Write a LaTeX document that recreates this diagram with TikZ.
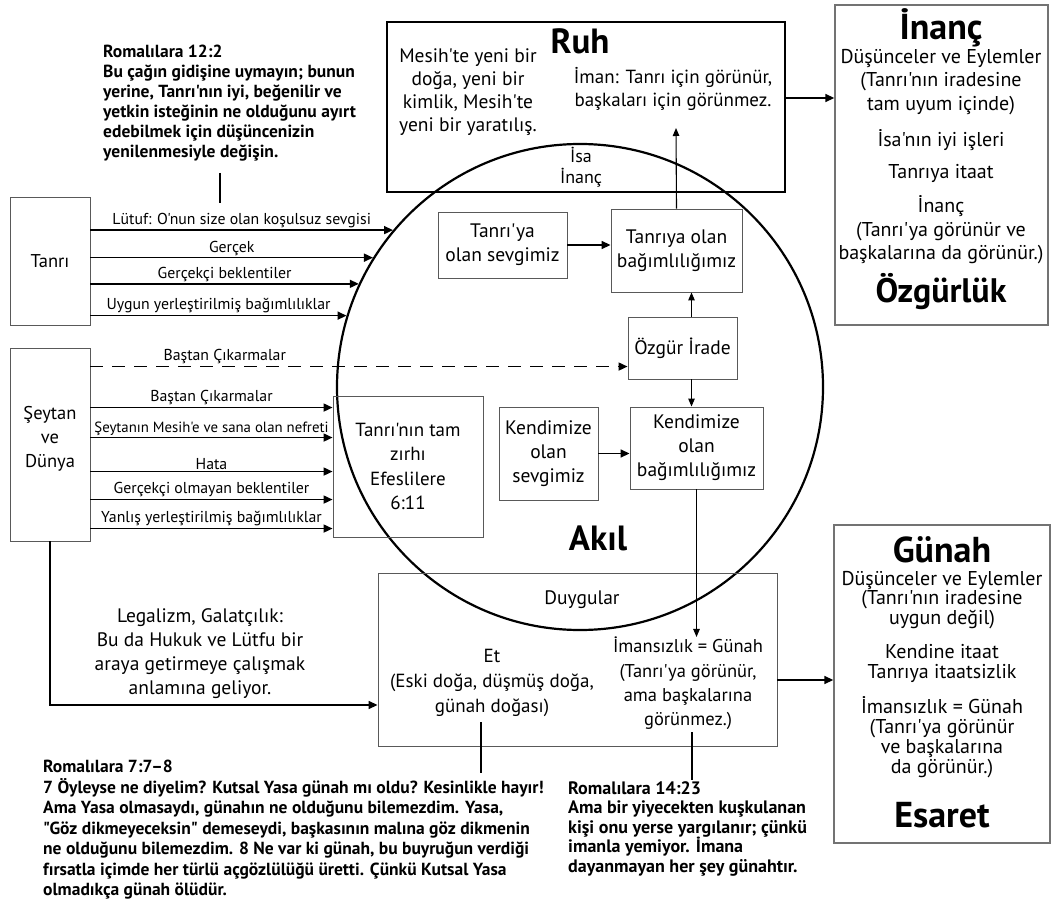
\documentclass[tikz,border=0pt]{standalone}
\usepackage{fontspec}
\setmainfont{PT Sans}[Ligatures=TeXOff]
\usepackage{tikz}
\usetikzlibrary{shapes,arrows,arrows.meta,positioning,calc}

\tikzset{
  box/.style = {draw=black!65, line width=0.9pt, align=center, inner sep=0pt,
    font=\fontsize{19.5}{24}\selectfont},
  bigbox/.style = {draw=black!55, line width=1.4pt, inner sep=0pt},
  arr/.style = {-{Triangle[length=9pt,width=8pt]}, line width=1.6pt},
  thinarr/.style = {-{Triangle[length=8pt,width=6.5pt]}, line width=1.1pt},
  conn/.style = {line width=1.1pt},
  lbl/.style = {font=\fontsize{15.8}{16}\selectfont, inner sep=1.5pt},
  txt/.style = {align=center, inner sep=0pt, font=\fontsize{19.5}{24}\selectfont},
  side/.style = {align=center, inner sep=0pt, font=\fontsize{20}{23.5}\selectfont},
  verse/.style = {align=left, inner sep=0pt, anchor=north west,
    font=\bfseries\fontsize{17.5}{20.5}\selectfont},
  head/.style = {inner sep=0pt, font=\bfseries\fontsize{36}{36}\selectfont}
}

\begin{document}
\begin{tikzpicture}[x=1pt, y=-1pt]
  \useasboundingbox (0,0) rectangle (1051,901);

  % left side
  \node[box, font=\fontsize{18.5}{24}\selectfont, minimum width=80pt, minimum height=128pt] (tanri) at (50,261) {Tanrı};
  \node[box, minimum width=80pt, minimum height=193pt] (seytan) at (50,444.5) {};
  \node[txt, font=\fontsize{18.5}{24}\selectfont] (seytanT) at (50,439) {Şeytan\\ve\\Dünya};

  % the mind
  \node[circle, draw, line width=2.2pt, minimum size=486pt, inner sep=0pt] (akil) at (580,387) {};
  \node[head, font=\bfseries\fontsize{35}{35}\selectfont] (akilT) at (598,538) {Akıl};

  % spirit
  \node[draw, line width=2.4pt, minimum width=398pt, minimum height=170pt, inner sep=0pt] (ruh) at (586,107) {};
  \node[head, font=\bfseries\fontsize{35}{35}\selectfont] (ruhT) at (580,41) {Ruh};
  \node[txt, font=\fontsize{19.5}{23}\selectfont] (yeni) at (468,92.5) {Mesih'te yeni bir\\doğa, yeni bir\\kimlik, Mesih'te\\yeni bir yaratılış.};
  \node[txt, font=\fontsize{19}{23}\selectfont] (iman) at (673,88.5) {İman: Tanrı için görünür,\\başkaları için görünmez.};
  \node[txt, font=\fontsize{18}{21}\selectfont] (isa) at (581,167.5) {İsa\\İnanç};
  \coordinate (imantip) at (676,128);

  % boxes in the circle
  \node[box, minimum width=129pt, minimum height=66pt] (tanrisev) at (502.5,245) {Tanrı'ya\\olan sevgimiz};
  \node[box, minimum width=131pt, minimum height=83pt] (tanribag) at (676.5,250.5) {Tanrıya olan\\bağımlılığımız};
  \node[box, minimum width=109pt, minimum height=62pt] (ozgur) at (682.5,348) {Özgür İrade};
  \node[box, minimum width=99pt, minimum height=93pt] (kendisev) at (548.5,453.5) {Kendimize\\olan\\sevgimiz};
  \node[box, minimum width=133pt, minimum height=82pt] (kendibag) at (696.5,448) {Kendimize\\olan\\bağımlılığımız};
  \node[box, font=\fontsize{19}{24.5}\selectfont, minimum width=150pt, minimum height=141pt] (zirh) at (408,466.5) {Tanrı'nın tam\\zırhı\\Efeslilere\\6:11};

  % feelings
  \node[box, minimum width=399pt, minimum height=173pt] (duygular) at (577.5,659.5) {};
  \node[txt] (duyT) at (582,600) {Duygular};
  \node[txt, font=\fontsize{19}{25}\selectfont] (et) at (492,683) {Et\\(Eski doğa, düşmüş doğa,\\günah doğası)};
  \node[txt, font=\fontsize{18.5}{24.3}\selectfont] (imansiz) at (688,683.5) {İmansızlık = Günah\\(Tanrı'ya görünür,\\ama başkalarına\\görünmez.)};
  \node[txt] (legal) at (200,654) {Legalizm, Galatçılık:\\Bu da Hukuk ve Lütfu bir\\araya getirmeye çalışmak\\anlamına geliyor.};

  % right side
  \node[bigbox, minimum width=213pt, minimum height=320pt] (inancbox) at (941.5,165) {};
  \node[head] (inancT) at (941,28) {İnanç};
  \node[side] (inanc1) at (941,82) {Düşünceler ve Eylemler\\(Tanrı'nın iradesine\\tam uyum içinde)};
  \node[side] (inanc2) at (941,140) {İsa'nın iyi işleri};
  \node[side] (inanc3) at (941,173) {Tanrıya itaat};
  \node[side] (inanc4) at (941,230) {İnanç\\(Tanrı'ya görünür ve\\başkalarına da görünür.)};
  \node[head, font=\bfseries\fontsize{34}{34}\selectfont] (ozgurluk) at (941,292) {Özgürlük};

  \node[bigbox, minimum width=216pt, minimum height=318pt] (gunahbox) at (942,684) {};
  \node[head] (gunahT) at (942,550) {Günah};
  \node[side, font=\fontsize{20}{19.5}\selectfont] (gunah1) at (942,600) {Düşünceler ve Eylemler\\(Tanrı'nın iradesine\\uygun değil)};
  \node[side, font=\fontsize{20}{20}\selectfont] (gunah2) at (942,663) {Kendine itaat\\Tanrıya itaatsizlik};
  \node[side, font=\fontsize{20}{20}\selectfont] (gunah3) at (942,737) {İmansızlık = Günah\\(Tanrı'ya görünür\\ve başkalarına\\da görünür.)};
  \node[head] (esaret) at (942,815) {Esaret};

  % verses
  \node[verse, font=\bfseries\fontsize{17.5}{20}\selectfont] (rom12) at (103,45) {Romalılara 12:2\\Bu çağın gidişine uymayın; bunun\\yerine, Tanrı'nın iyi, beğenilir ve\\yetkin isteğinin ne olduğunu ayırt\\edebilmek için düşüncenizin\\yenilenmesiyle değişin.};
  \node[verse] (rom7) at (43,760) {Romalılara 7:7–8\\7 Öyleyse ne diyelim? Kutsal Yasa günah mı oldu? Kesinlikle hayır!\\Ama Yasa olmasaydı, günahın ne olduğunu bilemezdim. Yasa,\\"Göz dikmeyeceksin" demeseydi, başkasının malına göz dikmenin\\ne olduğunu bilemezdim. 8 Ne var ki günah, bu buyruğun verdiği\\fırsatla içimde her türlü açgözlülüğü üretti. Çünkü Kutsal Yasa\\olmadıkça günah ölüdür.};
  \node[verse, font=\bfseries\fontsize{18}{19.5}\selectfont] (rom14) at (568,781) {Romalılara 14:23\\Ama bir yiyecekten kuşkulanan\\kişi onu yerse yargılanır; çünkü\\imanla yemiyor. İmana\\dayanmayan her şey günahtır.};
  \coordinate (r12a) at (220,173);
  \coordinate (r12b) at (220,203);
  \coordinate (r7a) at (481,722);
  \coordinate (r7b) at (481,773);
  \coordinate (r14a) at (692,732);
  \coordinate (r14b) at (692,780);
  \draw[conn] (r12a) -- (r12b);
  \draw[conn] (r7a) -- (r7b);
  \draw[conn] (r14a) -- (r14b);

  % from God
  \draw[arr] (tanri.east |- akil.140) -- (akil.140) node[lbl, midway, above] {Lütuf: O'nun size olan koşulsuz sevgisi};
  \draw[arr] (tanri.east |- akil.148) -- (akil.148) node[lbl, midway, above] {Gerçek};
  \draw[arr] (tanri.east |- akil.155) -- (akil.155) node[lbl, midway, above] {Gerçekçi beklentiler};
  \draw[arr] (tanri.east |- akil.163) -- (akil.163) node[lbl, midway, above] {Uygun yerleştirilmiş bağımlılıklar};

  % from Satan and the world
  \draw[arr, dash pattern=on 13pt off 9pt] ([yshift=-19pt]seytan.north east) coordinate (d0) -- (d0 -| ozgur.west) node[lbl, pos=0.25, above] {Baştan Çıkarmalar};
  \draw[arr] ([yshift=-60pt]seytan.north east) coordinate (s1) -- (s1 -| zirh.west) node[lbl, midway, above] {Baştan Çıkarmalar};
  \draw[arr] ([yshift=-90pt]seytan.north east) coordinate (s2) -- (s2 -| zirh.west) node[lbl, font=\fontsize{14.8}{15}\selectfont, midway, above] {Şeytanın Mesih'e ve sana olan nefreti};
  \draw[arr] ([yshift=-124pt]seytan.north east) coordinate (s3) -- (s3 -| zirh.west) node[lbl, midway, above] {Hata};
  \draw[arr] ([yshift=-152pt]seytan.north east) coordinate (s4) -- (s4 -| zirh.west) node[lbl, midway, above] {Gerçekçi olmayan beklentiler};
  \draw[arr] ([yshift=-181pt]seytan.north east) coordinate (s5) -- (s5 -| zirh.west) node[lbl, midway, above] {Yanlış yerleştirilmiş bağımlılıklar};
  \draw[arr] (seytan.south) |- ([yshift=-45.5pt]duygular.west);

  % inside the mind
  \draw[arr] (tanrisev.east) -- (tanrisev.east -| tanribag.west);
  \draw[thinarr] (tanribag.north) -- (imantip);
  \draw[thinarr] ([xshift=9pt]ozgur.north) -- ([xshift=9pt]ozgur.north |- tanribag.south);
  \draw[thinarr] ([xshift=9pt]ozgur.south) -- ([xshift=9pt]ozgur.south |- kendibag.north);
  \draw[arr] (kendisev.east) -- (kendisev.east -| kendibag.west);
  \draw[thinarr] (kendibag.south) -- (kendibag.south |- imansiz.north);

  % outcomes
  \draw[arr] ([yshift=9pt]ruh.east) -- ([yshift=9pt]ruh.east -| inancbox.west);
  \draw[arr] ([yshift=-20.5pt]duygular.east) -- ([yshift=-20.5pt]duygular.east -| gunahbox.west);
\end{tikzpicture}
\end{document}
